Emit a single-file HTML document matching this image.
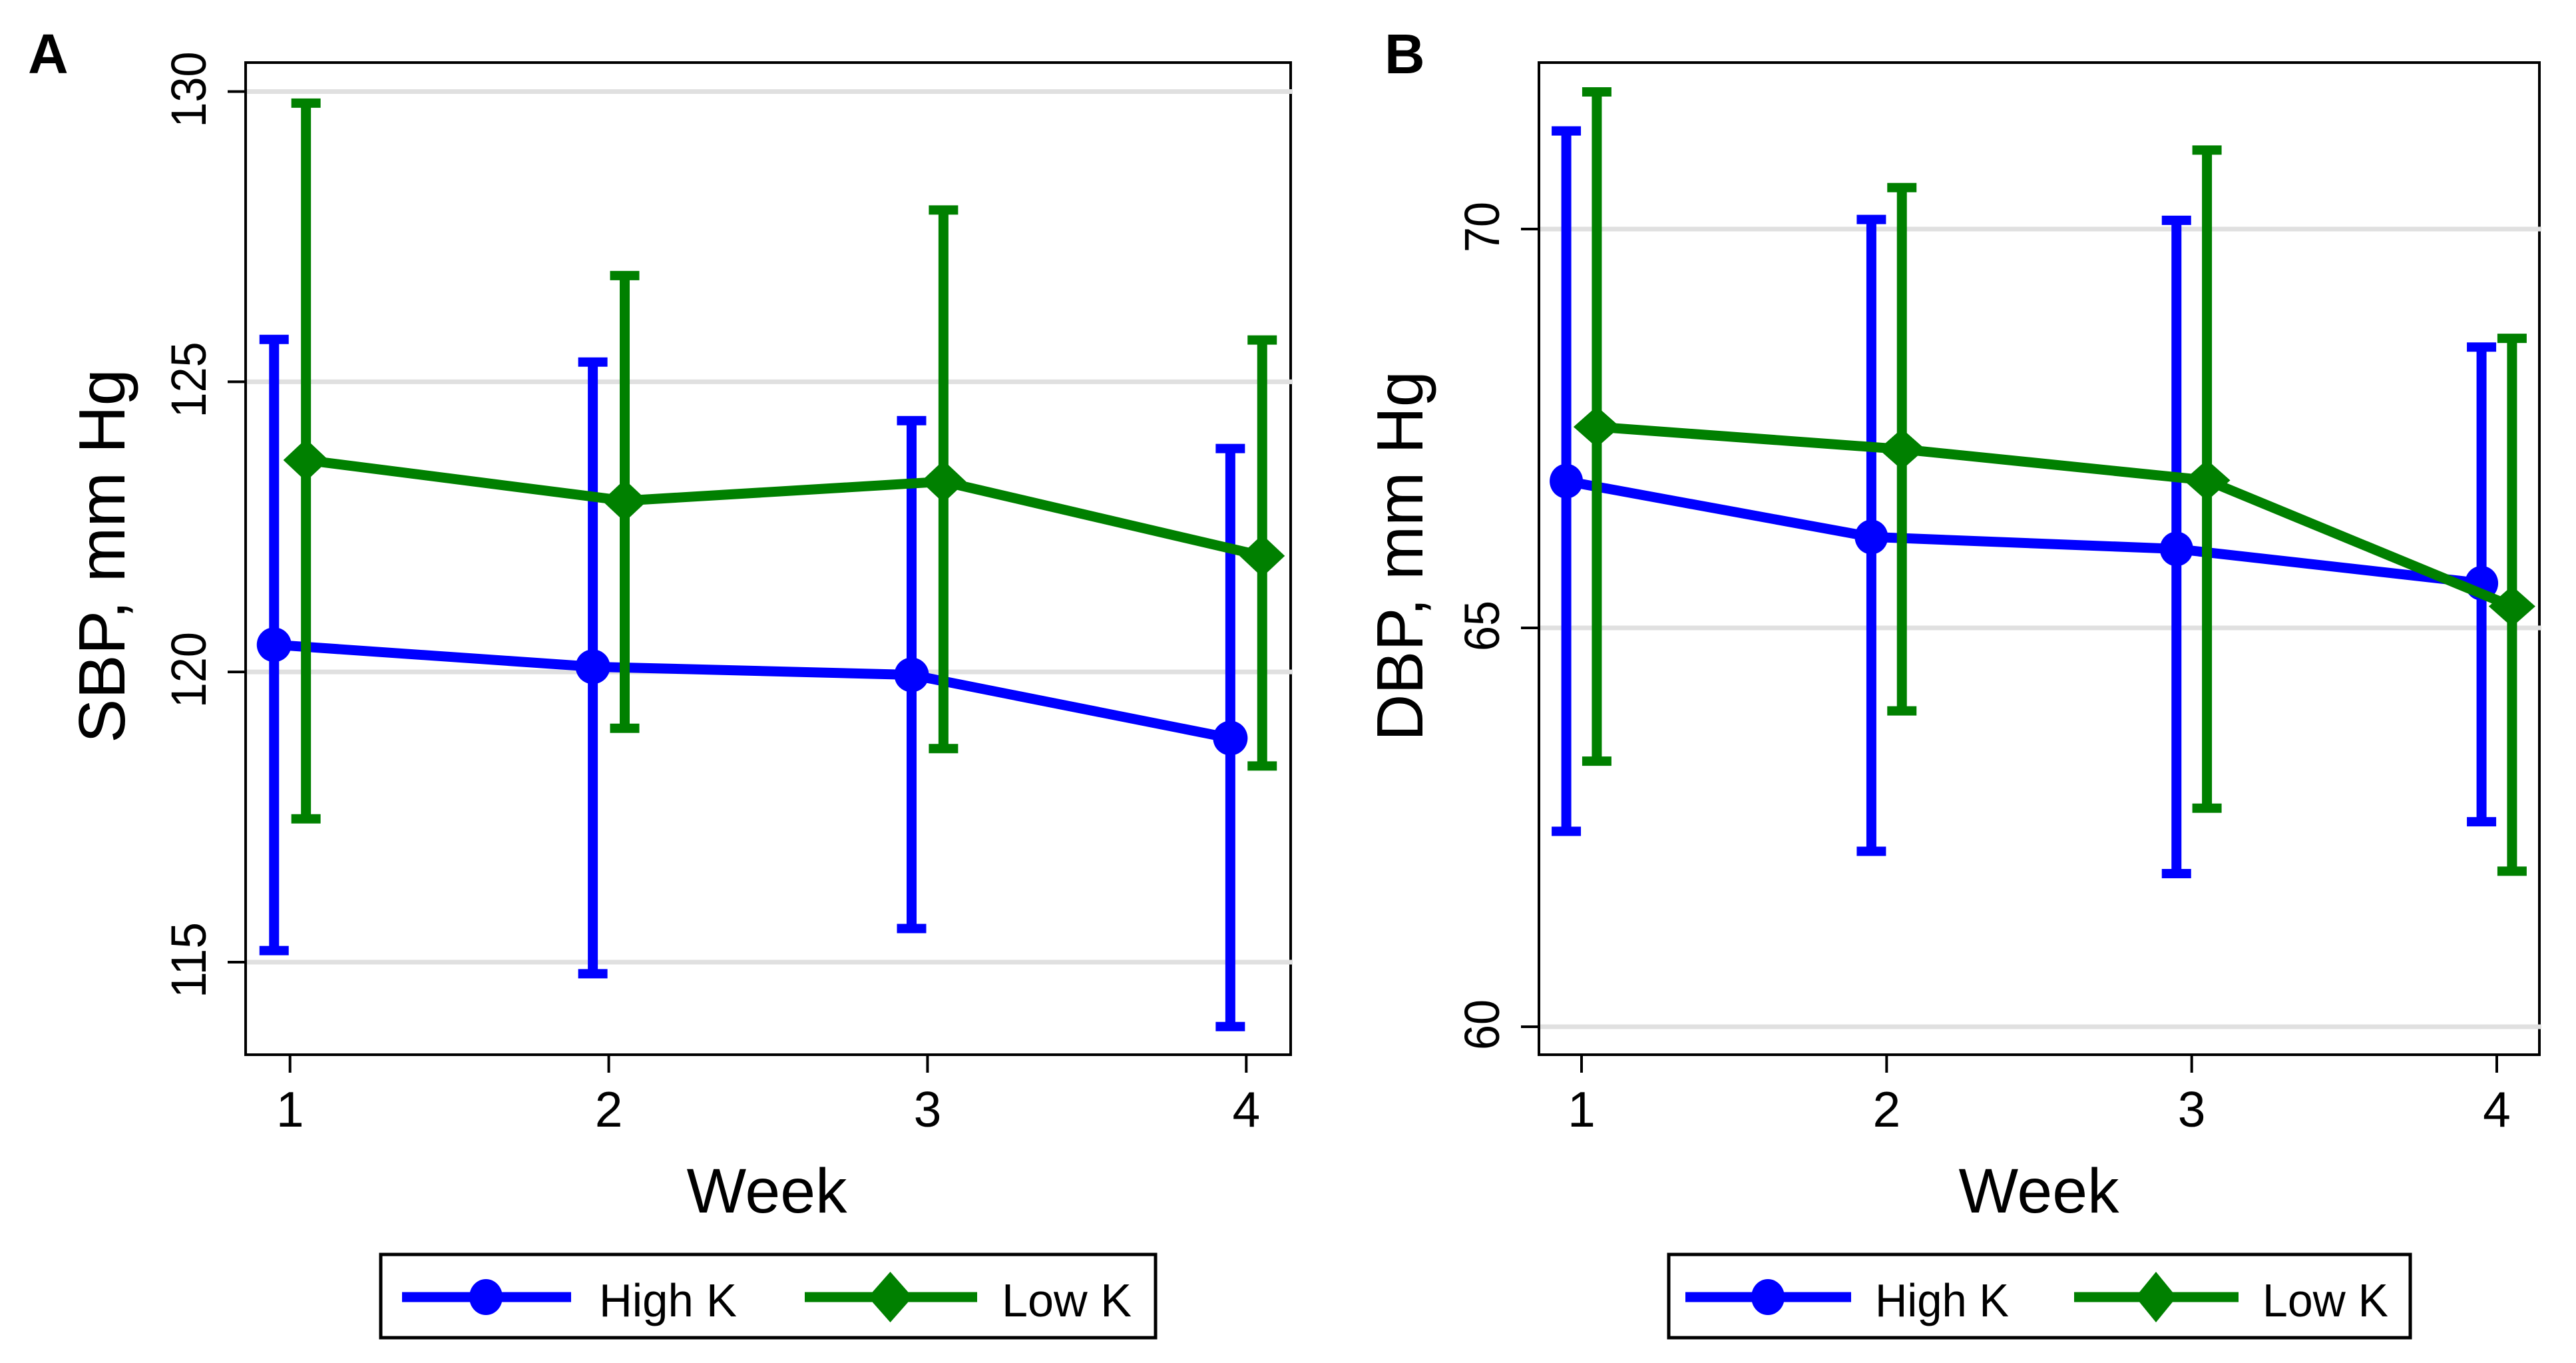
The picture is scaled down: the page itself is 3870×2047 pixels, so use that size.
<!DOCTYPE html>
<html lang="en">
<head>
<meta charset="utf-8">
<title>SBP and DBP by week</title>
<style>
html,body{margin:0;padding:0;background:#fff;}
svg{display:block;}
text{font-family:"Liberation Sans",Arial,sans-serif;fill:#000;}
</style>
</head>
<body>
<svg id="figure" xmlns="http://www.w3.org/2000/svg" width="3870" height="2047" viewBox="0 0 3870 2047">
  <rect x="0" y="0" width="3870" height="2047" fill="#fff"/>
  <text x="42" y="110" font-size="84" font-weight="bold">A</text>
  <text x="2080" y="110" font-size="84" font-weight="bold">B</text>
  <g id="panelA"></g>
  <g id="panelB"></g>

  <text transform="rotate(-90 187 835)" x="187" y="835" font-size="98" text-anchor="middle" textLength="562" lengthAdjust="spacingAndGlyphs">SBP, mm Hg</text>
  <text transform="rotate(-90 2137 835)" x="2137" y="835" font-size="98" text-anchor="middle" textLength="556" lengthAdjust="spacingAndGlyphs">DBP, mm Hg</text>
  <text x="1152" y="1821" font-size="95" text-anchor="middle">Week</text>
  <text x="3063" y="1821" font-size="95" text-anchor="middle">Week</text>

  <g>
    <rect x="572" y="1884" width="1164" height="125" fill="#fff" stroke="#000" stroke-width="5"/>
    <line x1="604" y1="1948" x2="858" y2="1948" stroke="#0000ff" stroke-width="15"/>
    <ellipse cx="730" cy="1948" rx="25" ry="27" fill="#0000ff"/>
    <text x="900" y="1977" font-size="70" textLength="207" lengthAdjust="spacingAndGlyphs">High K</text>
    <line x1="1209" y1="1948" x2="1468" y2="1948" stroke="#008000" stroke-width="15"/>
    <polygon points="1337.5,1910 1371,1948 1337.5,1986 1304,1948" fill="#008000"/>
    <text x="1505" y="1977" font-size="70" textLength="195" lengthAdjust="spacingAndGlyphs">Low K</text>
  </g>

  <g>
    <rect x="2507" y="1884" width="1114" height="125" fill="#fff" stroke="#000" stroke-width="5"/>
    <line x1="2532" y1="1948" x2="2781" y2="1948" stroke="#0000ff" stroke-width="15"/>
    <ellipse cx="2656" cy="1948" rx="25" ry="27" fill="#0000ff"/>
    <text x="2817" y="1977" font-size="70" textLength="201" lengthAdjust="spacingAndGlyphs">High K</text>
    <line x1="3116" y1="1948" x2="3363" y2="1948" stroke="#008000" stroke-width="15"/>
    <polygon points="3239,1910 3270,1948 3239,1986 3208,1948" fill="#008000"/>
    <text x="3399" y="1977" font-size="70" textLength="189" lengthAdjust="spacingAndGlyphs">Low K</text>
  </g>
</svg>

<script>
// ---- chart data ----
const weeks = [1, 2, 3, 4];
const sbpTicks = [115, 120, 125, 130];
const dbpTicks = [60, 65, 70];

const sbpHighMean  = [120.47, 120.09, 119.95, 118.86];
const sbpHighUpper = [125.73, 125.34, 124.33, 123.85];
const sbpHighLower = [115.20, 114.80, 115.58, 113.89];

const sbpLowMean   = [123.65, 122.95, 123.28, 122.00];
const sbpLowUpper  = [129.80, 126.83, 127.96, 125.72];
const sbpLowLower  = [117.47, 119.03, 118.68, 118.38];

const dbpHighMean  = [66.84, 66.14, 65.99, 65.56];
const dbpHighUpper = [71.23, 70.12, 70.11, 68.52];
const dbpHighLower = [62.45, 62.20, 61.92, 62.57];

const dbpLowMean   = [67.52, 67.24, 66.85, 65.27];
const dbpLowUpper  = [71.72, 70.52, 70.99, 68.63];
const dbpLowLower  = [63.33, 63.96, 62.74, 61.95];

// ---- drawing ----
const SVG_NS = 'http://www.w3.org/2000/svg';
const BLUE = '#0000ff';
const GREEN = '#008000';
const DODGE = 0.05;

function mk(parent, tag, attrs) {
  const node = document.createElementNS(SVG_NS, tag);
  for (const key in attrs) node.setAttribute(key, attrs[key]);
  parent.appendChild(node);
  return node;
}

function linearScale(d0, d1, r0, r1) {
  return function (v) { return r0 + (v - d0) * (r1 - r0) / (d1 - d0); };
}

function drawFrame(g, p, prefix) {
  const frame = mk(g, 'rect', {x: p.left, y: p.top, width: p.right - p.left, height: p.bottom - p.top, fill: '#fff', stroke: '#000', 'stroke-width': 4});
  
  
}

function drawYAxis(g, p, prefix, ticks, y) {
  ticks.forEach(function (t) {
    const grid = mk(g, 'line', {x1: p.left + 2, x2: p.right + 3, y1: y(t), y2: y(t), stroke: '#e0e0e0', 'stroke-width': 7});
    
    

    const tick = mk(g, 'line', {x1: p.left - 27, x2: p.left, y1: y(t), y2: y(t), stroke: '#000', 'stroke-width': 4});
    
    

    const label = mk(g, 'text', {
      x: p.yLabelX, y: y(t) - 3, 'font-size': 74, 'text-anchor': 'middle',
      textLength: String(t).length * 38, lengthAdjust: 'spacingAndGlyphs',
      transform: 'rotate(-90 ' + p.yLabelX + ' ' + (y(t) - 3) + ')'
    });
    label.textContent = t;
    
    
  });
}

function drawXAxis(g, p, prefix, cats, x) {
  cats.forEach(function (w) {
    const tick = mk(g, 'line', {x1: x(w), x2: x(w), y1: p.bottom, y2: p.bottom + 27, stroke: '#000', 'stroke-width': 4});
    
    

    const label = mk(g, 'text', {x: x(w), y: 1692, 'font-size': 75, 'text-anchor': 'middle'});
    label.textContent = w;
    
    
  });
}

function drawSeries(g, prefix, key, color, cats, offset, means, uppers, lowers, x, y, marker) {
  const px = function (w) { return x(w + offset); };

  cats.forEach(function (w, i) {
    const stem = mk(g, 'line', {x1: px(w), x2: px(w), y1: y(uppers[i]), y2: y(lowers[i]), stroke: color, 'stroke-width': 15});
    
    

    const capTop = mk(g, 'line', {x1: px(w) - 22, x2: px(w) + 22, y1: y(uppers[i]), y2: y(uppers[i]), stroke: color, 'stroke-width': 14});
    
    

    const capLow = mk(g, 'line', {x1: px(w) - 22, x2: px(w) + 22, y1: y(lowers[i]), y2: y(lowers[i]), stroke: color, 'stroke-width': 14});
    
    
  });

  const pts = cats.map(function (w, i) { return px(w) + ',' + y(means[i]); }).join(' ');
  const line = mk(g, 'polyline', {points: pts, fill: 'none', stroke: color, 'stroke-width': 15, 'stroke-linejoin': 'round'});
  
  

  cats.forEach(function (w, i) {
    const cx = px(w);
    const cy = y(means[i]);
    let m;
    if (marker.kind === 'circle') {
      m = mk(g, 'ellipse', {cx: cx, cy: cy, rx: marker.rx, ry: marker.ry, fill: color});
    } else {
      const diamond = [cx + ',' + (cy - marker.ry), (cx + marker.rx) + ',' + cy, cx + ',' + (cy + marker.ry), (cx - marker.rx) + ',' + cy].join(' ');
      m = mk(g, 'polygon', {points: diamond, fill: color});
    }
    
    
  });
}

// Panel A
const layoutA = {left: 369, right: 1939, top: 94, bottom: 1584, yLabelX: 309};
const xA = linearScale(1, 4, 435.7, 1872.3);
const yA = linearScale(115, 130, 1445, 137.5);
const gA = document.getElementById('panelA');
drawFrame(gA, layoutA, 'sbp');
drawYAxis(gA, layoutA, 'sbp', sbpTicks, yA);
drawXAxis(gA, layoutA, 'sbp', weeks, xA);
drawSeries(gA, 'sbp', 'high-k', BLUE, weeks, -DODGE, sbpHighMean, sbpHighUpper, sbpHighLower, xA, yA, {kind: 'circle', rx: 26, ry: 26});
drawSeries(gA, 'sbp', 'low-k', GREEN, weeks, DODGE, sbpLowMean, sbpLowUpper, sbpLowLower, xA, yA, {kind: 'diamond', rx: 34, ry: 32});

// Panel B
const layoutB = {left: 2312, right: 3815, top: 94, bottom: 1584, yLabelX: 2252};
const xB = linearScale(1, 4, 2376, 3751);
const yB = linearScale(60, 70, 1542, 344);
const gB = document.getElementById('panelB');
drawFrame(gB, layoutB, 'dbp');
drawYAxis(gB, layoutB, 'dbp', dbpTicks, yB);
drawXAxis(gB, layoutB, 'dbp', weeks, xB);
drawSeries(gB, 'dbp', 'high-k', BLUE, weeks, -DODGE, dbpHighMean, dbpHighUpper, dbpHighLower, xB, yB, {kind: 'circle', rx: 25, ry: 26});
drawSeries(gB, 'dbp', 'low-k', GREEN, weeks, DODGE, dbpLowMean, dbpLowUpper, dbpLowLower, xB, yB, {kind: 'diamond', rx: 35, ry: 31});
</script>
</body>
</html>
